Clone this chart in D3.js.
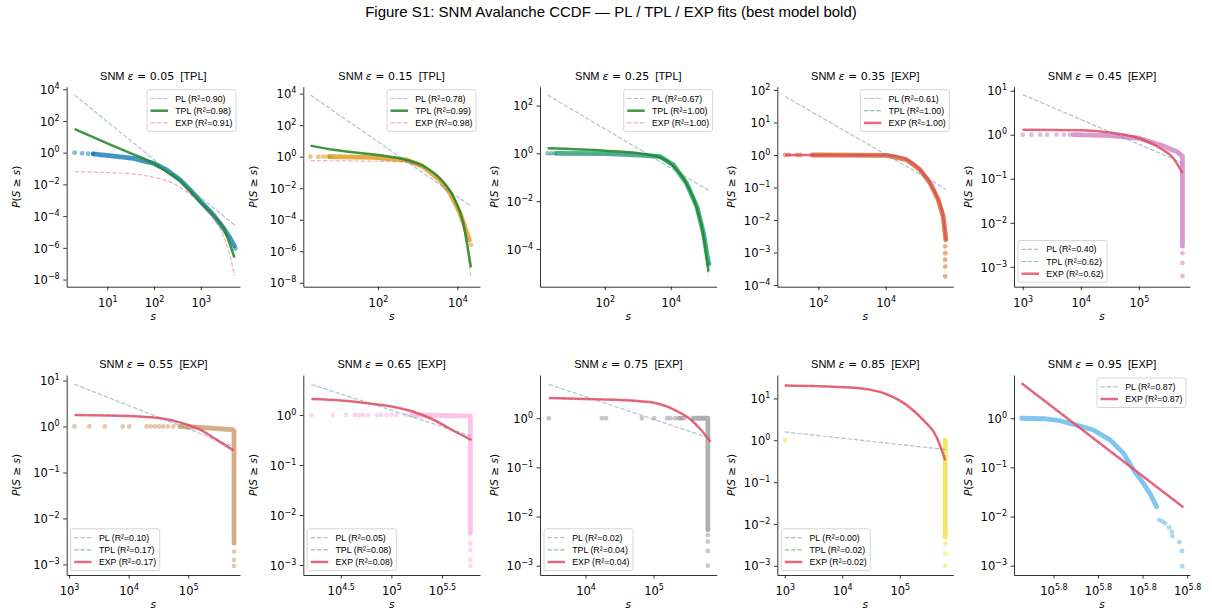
<!DOCTYPE html>
<html>
<head>
<meta charset="UTF-8">
<title>Figure S1</title>
<script src="https://cdn.jsdelivr.net/npm/d3@7"></script>
<style>
  body { margin: 0; background: #fff; }
  svg { display: block; }
</style>
</head>
<body>
<script>
// ---- data (all values as log10 exponents) ----
const epsilons = [0.05, 0.15, 0.25, 0.35, 0.45, 0.55, 0.65, 0.75, 0.85, 0.95];
const bestModel = ["TPL", "TPL", "TPL", "EXP", "EXP", "EXP", "EXP", "EXP", "EXP", "EXP"];
const r2PL  = [0.90, 0.78, 0.67, 0.61, 0.40, 0.10, 0.05, 0.02, 0.00, 0.87];
const r2TPL = [0.98, 0.99, 1.00, 1.00, 0.62, 0.17, 0.08, 0.04, 0.02, null];
const r2EXP = [0.91, 0.98, 1.00, 1.00, 0.62, 0.17, 0.08, 0.04, 0.02, 0.87];
const dotColors = ["#0173b2", "#de8f05", "#029e73", "#d55e00", "#cc78bc",
                   "#ca9161", "#fbafe4", "#949494", "#ece133", "#56b4e9"];

// axis limits, log10
const xLimLog = [[0.13, 3.84], [0.12, 4.57], [0.04, 5.39], [0.78, 6.01], [2.85, 5.88],
                 [2.96, 5.87], [4.13, 5.875], [3.33, 5.93], [2.87, 5.93], [5.77423, 5.78213]];
const yLimLog = [[-8.45, 4.16], [-8.25, 4.44], [-5.58, 2.79], [-4.05, 2.10], [-3.45, 1.09],
                 [-3.23, 1.12], [-3.2, 0.8], [-3.19, 0.88], [-3.22, 1.56], [-3.19, 0.88]];
const xTickExp = [[1, 2, 3], [2, 4], [2, 4], [2, 4], [3, 4, 5],
                  [3, 4, 5], [4.5, 5, 5.5], [4, 5], [3, 4, 5], [5.776, 5.778, 5.780, 5.782]];
const yTickExp = [[4, 2, 0, -2, -4, -6, -8], [4, 2, 0, -2, -4, -6, -8], [2, 0, -2, -4],
                  [2, 1, 0, -1, -2, -3, -4], [1, 0, -1, -2, -3], [1, 0, -1, -2, -3],
                  [0, -1, -2, -3], [0, -1, -2, -3], [1, 0, -1, -2, -3], [0, -1, -2, -3]];

// CCDF, isolated points [log s, log P]
const ccdfDots = [
  [[0.30, 0], [0.46, -0.04], [0.59, -0.06], [0.70, -0.08], [3.74, -6.05]],
  [[0.30, 0], [0.50, 0], [0.62, 0], [0.72, 0], [0.79, 0], [4.34, -5.60]],
  [[0.27, 0], [0.39, 0], [0.49, 0], [5.16, -4.63]],
  [[1.01, 0], [1.11, 0], [1.36, 0], [1.46, 0], [1.80, 0], [5.77, -2.81], [5.77, -3.02], [5.77, -3.22], [5.77, -3.43], [5.77, -3.73]],
  [[3.0, 0], [3.15, 0], [3.30, 0], [3.42, 0], [3.58, 0], [3.71, 0], [3.81, 0], [5.75, -2.69], [5.75, -2.91], [5.75, -3.21]],
  [[3.09, 0], [3.34, 0], [3.60, 0], [3.90, 0], [4.01, 0], [4.30, 0], [4.37, 0], [4.44, 0], [4.51, 0], [4.58, 0], [4.66, 0], [4.75, 0],
   [5.77, -2.72], [5.77, -2.90], [5.77, -3.03]],
  [[4.21, 0], [4.42, 0], [4.55, 0], [4.64, 0], [4.68, 0], [4.72, 0], [4.77, 0], [4.86, 0], [4.90, 0], [4.95, 0], [5.0, 0], [5.05, 0], [5.14, 0],
   [5.78, -2.57], [5.78, -2.70], [5.78, -2.90], [5.78, -3.02]],
  [[3.46, 0], [4.24, 0], [4.30, 0], [4.83, 0], [5.01, 0], [5.20, 0], [5.25, 0], [5.32, 0], [5.37, 0], [5.39, 0], [5.42, 0], [5.45, 0],
   [5.80, -2.38], [5.80, -2.51], [5.80, -2.70], [5.80, -3.0]],
  [[3.01, 0], [5.79, -2.47], [5.79, -2.71], [5.79, -3.0]],
  [[5.78074, -2.07], [5.78089, -2.10], [5.78101, -2.14], [5.78119, -2.22], [5.78131, -2.31], [5.78134, -2.40],
   [5.78165, -2.52], [5.78177, -2.70], [5.78178, -3.01]]
];

// CCDF, dense runs of overlapping points
const ccdfBand = [
  [[0.70, -0.08], [0.84, -0.13], [1.0, -0.17], [1.56, -0.36], [1.99, -0.67], [2.27, -1.09], [2.56, -1.72],
   [2.77, -2.35], [3.0, -3.09], [3.27, -3.93], [3.49, -4.77], [3.63, -5.40], [3.72, -5.88]],
  [[0.79, 0], [1.88, -0.04], [2.72, -0.21], [3.14, -0.63], [3.56, -1.48], [3.82, -2.33], [4.07, -3.59], [4.24, -4.86], [4.30, -5.29]],
  [[0.55, 0], [2.0, -0.01], [3.07, -0.07], [3.68, -0.14], [4.08, -0.49], [4.48, -1.26], [4.79, -2.23], [4.99, -3.35], [5.14, -4.60]],
  [[1.85, 0], [4.03, -0.01], [4.62, -0.14], [5.02, -0.45], [5.32, -0.86], [5.56, -1.37], [5.71, -1.89], [5.79, -2.61]],
  [[3.87, 0], [4.50, -0.02], [5.0, -0.08], [5.36, -0.23], [5.65, -0.38], [5.75, -0.49], [5.75, -2.53]],
  [[4.86, 0], [5.20, -0.02], [5.64, -0.06], [5.75, -0.07], [5.77, -0.1], [5.77, -2.54]],
  [[5.20, 0], [5.78, -0.02], [5.78, -2.37]],
  [[5.59, 0], [5.80, 0], [5.80, -2.27]],
  [[5.79, 0], [5.79, -2.31]],
  [[5.77457, 0], [5.77555, -0.01], [5.77629, -0.05], [5.77704, -0.14], [5.77779, -0.24], [5.77854, -0.44],
   [5.77914, -0.71], [5.77959, -1.05], [5.78003, -1.32], [5.78033, -1.53], [5.78063, -1.80]]
];

// fitted curves, sampled along the drawn lines
const fitPL = [
  [[0.30, 3.63], [3.74, -4.60]],
  [[0.30, 3.91], [4.34, -3.13]],
  [[0.27, 2.44], [5.16, -1.56]],
  [[1.01, 1.80], [5.79, -1.05]],
  [[3.0, 0.91], [5.75, -0.64]],
  [[3.09, 0.92], [5.76, -0.44]],
  [[4.21, 0.61], [5.79, -0.42]],
  [[3.46, 0.69], [5.84, -0.41]],
  [[3.0, 0.20], [5.79, -0.22]],
  [[5.77457, 0.71], [5.78183, -1.81]]
];
const fitEXP = [
  [[0.30, -1.20], [1.56, -1.34], [1.99, -1.55], [2.41, -1.93], [2.70, -2.46], [3.0, -3.19], [3.27, -4.14], [3.49, -5.29], [3.63, -6.55], [3.72, -7.77]],
  [[0.30, -0.25], [2.55, -0.32], [3.14, -0.68], [3.56, -1.48], [3.90, -2.64], [4.15, -4.44], [4.34, -7.61]],
  [[0.27, -0.04], [2.0, -0.04], [3.07, -0.06], [3.68, -0.17], [4.08, -0.53], [4.48, -1.28], [4.79, -2.30], [4.99, -3.45], [5.14, -5.13]],
  [[1.01, 0], [4.03, -0.01], [4.62, -0.14], [5.02, -0.45], [5.32, -0.86], [5.56, -1.37], [5.71, -1.89], [5.79, -2.61]],
  [[3.0, 0.11], [4.0, 0.10], [4.5, 0.05], [5.0, -0.08], [5.36, -0.30], [5.59, -0.53], [5.75, -0.87]],
  [[3.09, 0.25], [4.0, 0.23], [4.53, 0.18], [4.86, 0.09], [5.20, -0.07], [5.48, -0.29], [5.76, -0.52]],
  [[4.21, 0.32], [4.5, 0.29], [4.82, 0.22], [5.0, 0.17], [5.21, 0.07], [5.41, -0.09], [5.60, -0.30], [5.79, -0.50]],
  [[3.46, 0.41], [4.0, 0.39], [4.51, 0.37], [5.02, 0.31], [5.31, 0.17], [5.55, -0.03], [5.70, -0.24], [5.84, -0.48]],
  [[3.0, 1.31], [4.03, 1.27], [4.48, 1.21], [4.77, 1.10], [5.12, 0.84], [5.41, 0.48], [5.64, 0.08], [5.79, -0.48]],
  [[5.77457, 0.71], [5.78183, -1.81]]
];
// TPL for eps >= 0.35 lies on top of the EXP curve
const fitTPL = [
  [[0.30, 1.49], [1.0, 0.59], [1.56, -0.11], [1.99, -0.67], [2.27, -1.20], [2.56, -1.76], [3.0, -3.15], [3.27, -3.93], [3.49, -4.77], [3.72, -6.62]],
  [[0.30, 0.70], [0.92, 0.42], [2.0, 0.11], [2.55, -0.11], [3.14, -0.59], [3.56, -1.37], [3.90, -2.54], [4.15, -4.23], [4.34, -7.02]],
  [[0.27, 0.21], [2.0, 0.11], [3.07, 0], [3.68, -0.17], [4.08, -0.53], [4.48, -1.28], [4.79, -2.30], [4.99, -3.42], [5.14, -4.95]],
  null, null, null, null, null, null, null
];

// ---- layout ----
const W = 1212, H = 614;
const colLeft = [66.7, 303.3, 540, 777.3, 1014];
const colRight = [240, 480, 716.7, 953.3, 1190];
const rowTop = [86.7, 375], rowBottom = [286.7, 575];
const ylabelOffset = [50.5, 50, 45.5, 46.5, 46];
const MATH = "DejaVu Sans";
const SANS = "Liberation Sans, Arial, sans-serif";
const modelStyle = {
  PL:  { color: "#5b84b1", thin: 0.5 },
  TPL: { color: "#2b8a2b", thin: 0.5, bold: 0.9 },
  EXP: { color: "#e4506a", thin: 0.45, bold: 0.85 }
};

const svg = d3.select("body").append("svg").attr("width", W).attr("height", H);

svg.append("text")
  .attr("x", 611).attr("y", 17)
  .attr("text-anchor", "middle")
  .style("font-family", SANS).style("font-size", "15px")
  .text("Figure S1: SNM Avalanche CCDF \u2014 PL / TPL / EXP fits (best model bold)");

function expLabel(t, e) {
  const s = (Number.isInteger(e) ? String(e) : e.toFixed(1)).replace("-", "\u2212");
  t.text(null);
  t.append("tspan").text("10");
  t.append("tspan").attr("dy", -5).style("font-size", "8px").text(s);
}

epsilons.forEach(function (eps, i) {
  const c = i % 5, r = Math.floor(i / 5);
  const L = colLeft[c], R = colRight[c], T = rowTop[r], B = rowBottom[r];
  const x = d3.scaleLog().domain(xLimLog[i].map(v => Math.pow(10, v))).range([L, R]);
  const y = d3.scaleLog().domain(yLimLog[i].map(v => Math.pow(10, v))).range([B, T]);
  const px = d => x(Math.pow(10, d[0]));
  const py = d => y(Math.pow(10, d[1]));
  const g = svg.append("g");

  // CCDF
  g.append("path")
    .attr("d", d3.line().x(px).y(py)(ccdfBand[i]))
    .attr("fill", "none").attr("stroke", dotColors[i]).attr("stroke-opacity", 0.75)
    .attr("stroke-width", 4.8).attr("stroke-linecap", "round").attr("stroke-linejoin", "round");
  g.selectAll("circle.dot").data(ccdfDots[i]).enter().append("circle")
    .attr("cx", px).attr("cy", py).attr("r", 2.4)
    .attr("fill", dotColors[i]).attr("fill-opacity", 0.5);

  // fits
  const fits = [
    { name: "PL", pts: fitPL[i], r2: r2PL[i] },
    { name: "TPL", pts: fitTPL[i] || (r2TPL[i] != null ? fitEXP[i] : null), r2: r2TPL[i] },
    { name: "EXP", pts: fitEXP[i], r2: r2EXP[i] }
  ].filter(f => f.r2 != null);
  const line = d3.line().x(px).y(py).curve(d3.curveMonotoneX);
  const order = fits.filter(f => f.name !== bestModel[i]).concat(fits.filter(f => f.name === bestModel[i]));
  order.forEach(function (f) {
    const st = modelStyle[f.name], isBest = f.name === bestModel[i];
    const p = g.append("path").attr("d", line(f.pts)).attr("fill", "none")
      .attr("stroke", st.color)
      .attr("stroke-opacity", isBest ? st.bold : st.thin)
      .attr("stroke-width", isBest ? 2.5 : 1.2);
    if (!isBest) p.attr("stroke-dasharray", "4.4,1.9");
  });

  // axes
  const gx = g.append("g").attr("transform", `translate(0,${B})`)
    .call(d3.axisBottom(x).tickValues(xTickExp[i].map(e => Math.pow(10, e)))
      .tickSize(3.5).tickSizeOuter(0).tickPadding(3.5).tickFormat(""))
    .attr("font-family", MATH).attr("font-size", 11.5);
  gx.selectAll(".tick text").each(function (d, k) {
    const t = d3.select(this).attr("y", 20).attr("dy", 0).attr("fill", "#000");
    expLabel(t, xTickExp[i][k]);
  });
  const gy = g.append("g").attr("transform", `translate(${L},0)`)
    .call(d3.axisLeft(y).tickValues(yTickExp[i].map(e => Math.pow(10, e)))
      .tickSize(3.5).tickSizeOuter(0).tickPadding(3.5).tickFormat(""))
    .attr("font-family", MATH).attr("font-size", 11.5);
  gy.selectAll(".tick text").each(function (d, k) {
    const t = d3.select(this).attr("dy", 4.2).attr("fill", "#000");
    expLabel(t, yTickExp[i][k]);
  });
  g.selectAll(".domain, .tick line").attr("stroke", "#000").attr("stroke-width", 0.8);

  // labels
  const title = g.append("text").attr("x", (L + R) / 2).attr("y", T - 7)
    .attr("text-anchor", "middle").style("font-family", SANS).style("font-size", "11px");
  title.append("tspan").text("SNM ");
  title.append("tspan").style("font-family", MATH).style("font-style", "italic").text("\u03b5");
  title.append("tspan").style("font-family", MATH).text(" = " + eps.toFixed(2));
  title.append("tspan").text("\u00a0\u00a0[" + bestModel[i] + "]");

  g.append("text").attr("x", (L + R) / 2).attr("y", B + 33).attr("text-anchor", "middle")
    .style("font-family", MATH).style("font-style", "italic").style("font-size", "10.5px").text("s");

  const yl = g.append("text")
    .attr("transform", `translate(${L - ylabelOffset[c] + 3.8},${(T + B) / 2}) rotate(-90)`)
    .attr("text-anchor", "middle").style("font-family", MATH).style("font-size", "10.5px");
  [["P", 1], ["(", 0], ["S", 1], [" \u2265 ", 0], ["s", 1], [")", 0]].forEach(function (p) {
    yl.append("tspan").style("font-style", p[1] ? "italic" : "normal").text(p[0]);
  });

  // legend
  const lg = g.append("g");
  const box = lg.append("rect").attr("rx", 2).attr("fill", "#fff").attr("fill-opacity", 0.8)
    .attr("stroke", "#cccccc").attr("stroke-width", 0.8);
  let maxW = 0;
  fits.forEach(function (f, k) {
    const st = modelStyle[f.name], isBest = f.name === bestModel[i];
    const cy = 8.8 + k * 12.2;
    const h = lg.append("line").attr("x1", 3.5).attr("x2", 21).attr("y1", cy).attr("y2", cy)
      .attr("stroke", st.color).attr("stroke-opacity", isBest ? st.bold : st.thin)
      .attr("stroke-width", isBest ? 2.5 : 1.2);
    if (!isBest) h.attr("stroke-dasharray", "4.4,1.9");
    const t = lg.append("text").attr("x", 28.2).attr("y", cy + 3.1)
      .style("font-family", SANS).style("font-size", "8.8px")
      .text(f.name + " (R\u00b2=" + f.r2.toFixed(2) + ")");
    maxW = Math.max(maxW, t.node().getComputedTextLength());
  });
  const bw = 28.2 + maxW + 3.5, bh = 8.8 + (fits.length - 1) * 12.2 + 8.5;
  box.attr("width", bw).attr("height", bh);
  const upper = r2TPL[i] == null || i < 4;
  const lx = upper ? R - 4 - bw : L + 4;
  const ly = upper ? T + 3 : B - 4.5 - bh;
  lg.attr("transform", `translate(${lx},${ly})`);
});
</script>
</body>
</html>
